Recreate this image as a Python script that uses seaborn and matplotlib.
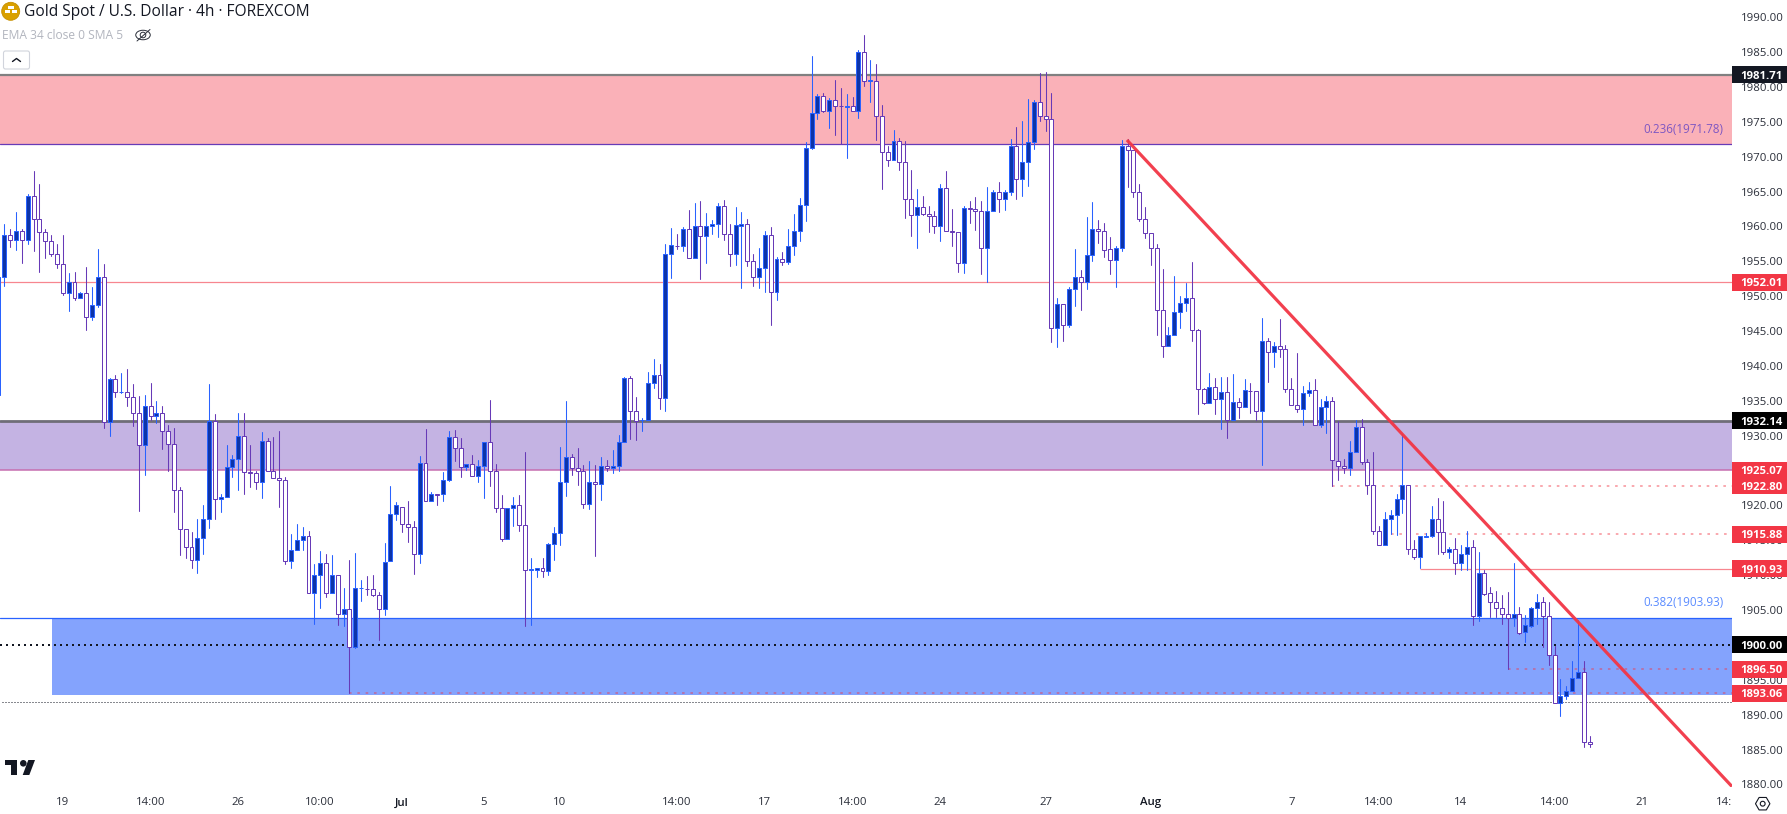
import numpy as np
import pandas as pd
import seaborn as sns
import matplotlib
matplotlib.use("Agg")
import matplotlib.pyplot as plt
from matplotlib.patches import Rectangle, Circle, Ellipse, Polygon, FancyBboxPatch

# 4h candles
opens = [
    1935.8,1952.8,1958.7,1958.0,1959.3,1958.1,1964.3,1961.0,1959.2,1957.9,
    1956.1,1954.6,1950.4,1952.0,1949.7,1950.4,1947.0,1948.8,1952.7,1931.9,
    1938.1,1936.2,1936.3,1935.5,1933.3,1928.6,1934.2,1932.8,1933.2,1930.6,
    1928.8,1922.2,1916.6,1914.0,1912.2,1915.3,1918.0,1932.15,1920.9,1921.2,
    1925.5,1926.7,1929.9,1924.8,1924.6,1923.3,1929.2,1925.0,1924.0,1923.6,
    1912.1,1913.65,1915.1,1915.6,1907.4,1910.0,1911.8,1907.4,1910.0,1904.5,
    1905.2,1899.65,1908.1,1908.05,1908.0,1907.2,1905.2,1912.0,1918.7,1919.8,
    1917.4,1916.95,1913.1,1926.1,1920.7,1921.6,1921.6,1923.7,1929.8,1928.3,
    1925.5,1926.0,1924.2,1925.6,1929.05,1925.0,1919.7,1915.2,1919.6,1920.1,
    1917.2,1910.8,1910.8,1911.0,1910.65,1914.4,1916.1,1923.3,1927.0,1925.3,
    1925.0,1920.25,1923.3,1923.0,1925.7,1925.3,1925.6,1929.05,1938.2,1933.5,
    1932.2,1932.2,1937.5,1938.65,1935.45,1956.1,1957.25,1957.15,1959.6,1955.4,
    1960.0,1958.6,1960.0,1960.4,1962.9,1958.9,1956.0,1960.1,1960.3,1955.1,
    1952.7,1954.0,1958.7,1950.55,1955.3,1954.95,1957.15,1959.3,1963.0,1971.3,
    1976.2,1978.65,1976.6,1978.1,1977.25,1977.1,1977.3,1976.5,1984.95,1980.9,
    1980.9,1975.9,1970.6,1969.5,1972.3,1969.3,1964.0,1961.6,1962.75,1961.75,
    1961.45,1960.0,1965.45,1959.4,1959.15,1954.7,1962.6,1962.55,1962.15,1956.85,
    1962.15,1964.9,1963.9,1965.0,1971.5,1966.75,1969.3,1972.05,1977.8,1975.8,
    1975.35,1945.4,1948.85,1945.8,1951.0,1952.7,1952.0,1955.85,1959.6,1959.3,
    1956.7,1955.15,1956.85,1971.5,1970.9,1965.0,1961.0,1959.0,1956.85,1948.0,
    1942.8,1944.4,1947.7,1949.0,1949.7,1945.1,1936.65,1934.75,1936.95,1935.2,
    1936.2,1932.3,1934.8,1934.1,1936.45,1936.35,1933.5,1943.55,1942.0,1942.8,
    1942.4,1936.65,1934.35,1933.8,1936.1,1936.5,1931.6,1934.1,1934.9,1926.4,
    1925.6,1925.3,1927.6,1931.2,1926.2,1922.9,1916.4,1914.3,1918.0,1918.6,
    1920.9,1922.9,1913.7,1912.55,1915.5,1915.65,1918.0,1916.15,1913.3,1913.7,
    1911.7,1913.0,1914.0,1904.2,1910.25,1907.4,1906.1,1905.25,1904.5,1903.8,
    1904.5,1901.8,1902.7,1905.25,1906.1,1904.2,1898.5,1891.7,1892.7,1893.4,1895.3,1896.1,1886.1,
]
highs = [
    1953.0,1960.3,1959.6,1962.1,1959.6,1964.7,1967.9,1966.1,1959.7,1958.8,
    1957.5,1958.8,1953.3,1953.5,1950.6,1954.2,1951.3,1956.8,1954.6,1938.3,
    1938.7,1939.0,1939.6,1937.4,1935.7,1935.8,1937.6,1935.0,1934.3,1931.5,
    1931.05,1922.7,1916.6,1916.2,1918.0,1920.0,1937.4,1933.1,1921.7,1928.7,
    1927.2,1933.3,1933.3,1928.7,1925.0,1930.5,1929.6,1929.8,1930.7,1924.1,
    1915.9,1917.3,1916.9,1916.3,1911.6,1913.4,1913.1,1912.9,1910.0,1908.2,
    1912.2,1913.2,1909.3,1909.9,1910.0,1907.6,1914.6,1922.8,1920.5,1919.8,
    1920.6,1917.8,1927.1,1931.0,1921.9,1921.6,1924.8,1930.7,1930.8,1929.7,
    1926.0,1927.2,1926.5,1929.05,1935.1,1925.9,1921.5,1919.7,1921.2,1921.5,
    1927.7,1912.5,1911.0,1912.4,1914.6,1916.9,1928.4,1935.0,1927.4,1928.2,
    1925.8,1926.4,1925.8,1926.9,1926.5,1927.95,1930.1,1938.4,1938.6,1935.55,
    1932.6,1939.1,1941.0,1940.3,1957.5,1959.8,1958.9,1959.9,1962.35,1963.35,
    1963.6,1961.9,1960.9,1963.3,1963.8,1960.35,1962.8,1962.1,1961.1,1956.05,
    1956.9,1959.3,1959.9,1955.6,1956.4,1959.6,1961.8,1964.1,1972.1,1984.4,
    1979.0,1979.1,1978.4,1981.0,1979.8,1979.0,1978.55,1985.3,1987.4,1983.9,
    1983.3,1977.4,1971.5,1973.8,1972.7,1972.25,1968.1,1965.4,1964.4,1962.9,
    1962.2,1966.1,1968.0,1962.5,1959.15,1962.9,1963.65,1964.2,1963.65,1965.65,
    1965.2,1966.4,1965.2,1972.5,1974.25,1975.1,1978.3,1978.1,1981.95,1982.15,
    1979.1,1949.75,1948.85,1951.3,1956.7,1953.75,1961.3,1963.5,1960.9,1960.45,
    1958.45,1957.2,1972.4,1972.5,1971.0,1966.1,1962.8,1959.1,1957.5,1953.85,
    1945.6,1952.9,1950.0,1951.9,1954.9,1945.3,1936.9,1939.0,1938.3,1938.4,
    1938.4,1938.85,1935.4,1938.1,1937.55,1936.35,1946.9,1944.0,1943.4,1946.7,
    1943.0,1938.3,1941.8,1937.1,1937.7,1938.1,1935.2,1935.7,1935.5,1932.1,
    1926.6,1929.2,1932.25,1932.35,1926.6,1927.65,1917.0,1919.0,1919.35,1921.6,
    1930.2,1922.9,1915.1,1915.6,1916.0,1919.9,1921.05,1920.7,1914.1,1915.3,
    1914.3,1916.3,1915.0,1913.3,1910.75,1908.3,1907.7,1907.1,1907.6,1911.7,
    1905.5,1904.25,1905.4,1907.3,1906.9,1906.1,1899.9,1895.1,1894.1,1897.7,1903.6,1897.7,1886.9,
]
lows = [
    1935.0,1951.5,1957.0,1956.6,1954.8,1957.5,1956.5,1953.4,1955.5,1955.8,
    1954.1,1950.2,1947.9,1949.5,1949.7,1945.1,1946.6,1948.4,1931.1,1929.9,
    1935.6,1936.1,1934.3,1931.4,1919.2,1924.4,1932.2,1931.8,1928.1,1925.0,
    1919.1,1912.9,1912.5,1911.0,1910.3,1913.0,1916.8,1918.05,1919.05,1921.2,
    1924.1,1922.2,1921.6,1922.6,1922.4,1921.1,1925.0,1924.0,1919.8,1911.6,
    1911.0,1913.65,1913.6,1907.4,1903.0,1905.3,1906.9,1907.4,1902.85,1902.7,
    1893.06,1899.5,1906.3,1907.2,1907.0,1900.75,1904.3,1912.0,1917.9,1916.2,
    1914.75,1910.2,1911.7,1920.7,1920.7,1920.05,1920.7,1923.5,1926.3,1924.1,
    1925.1,1924.2,1923.3,1921.0,1922.8,1919.1,1914.95,1915.2,1917.05,1916.3,
    1902.75,1902.9,1909.8,1909.8,1910.0,1912.2,1914.3,1921.4,1924.4,1922.9,
    1919.7,1919.5,1912.75,1920.8,1925.0,1924.6,1924.9,1929.05,1929.5,1929.4,
    1930.7,1932.2,1936.8,1933.8,1933.5,1952.65,1956.8,1956.5,1955.4,1955.4,
    1952.5,1954.8,1958.9,1958.5,1958.0,1954.3,1954.5,1951.1,1954.3,1951.45,
    1951.2,1950.6,1945.9,1949.45,1954.5,1954.6,1955.9,1957.9,1960.8,1971.1,
    1975.4,1976.4,1974.1,1973.1,1971.8,1969.8,1976.5,1975.5,1980.1,1977.8,
    1972.4,1965.35,1968.6,1969.5,1968.1,1961.25,1958.6,1956.9,1961.6,1959.2,
    1959.05,1957.9,1959.3,1957.2,1953.45,1953.3,1960.5,1959.5,1953.2,1952.1,
    1962.15,1962.1,1962.35,1964.5,1963.9,1964.35,1965.8,1971.1,1975.1,1973.7,
    1943.45,1942.7,1943.6,1945.6,1948.6,1948.0,1951.0,1955.05,1957.6,1955.6,
    1953.2,1951.3,1956.5,1965.65,1964.2,1960.8,1958.3,1954.45,1944.4,1941.3,
    1942.8,1944.4,1945.45,1947.9,1943.6,1933.1,1934.55,1934.75,1933.1,1931.0,
    1929.7,1932.3,1932.6,1934.1,1933.2,1932.2,1925.8,1937.7,1939.85,1941.3,
    1936.25,1934.35,1933.45,1931.6,1935.7,1931.6,1931.3,1930.4,1922.8,1923.65,
    1924.6,1924.35,1927.6,1926.0,1921.65,1915.85,1914.3,1914.3,1915.85,1915.7,
    1918.9,1913.05,1912.3,1911.0,1915.5,1915.5,1913.05,1913.05,1912.4,1910.15,
    1910.75,1910.75,1902.85,1903.4,1907.1,1903.95,1904.0,1903.0,1896.6,1902.7,
    1901.5,1900.4,1902.6,1903.0,1899.7,1897.1,1891.7,1889.8,1892.3,1893.4,1895.3,1885.3,1885.3,
]
closes = [
    1952.8,1958.7,1958.0,1959.3,1958.1,1964.3,1961.0,1959.2,1957.9,1956.1,
    1954.6,1950.4,1952.0,1949.7,1950.4,1947.0,1948.8,1952.7,1931.9,1938.1,
    1936.3,1936.3,1935.5,1933.3,1928.6,1934.2,1932.8,1933.2,1930.6,1928.8,
    1922.2,1916.6,1914.0,1912.2,1915.3,1918.0,1932.15,1920.9,1921.2,1925.5,
    1926.7,1929.9,1924.8,1924.6,1923.3,1929.2,1925.0,1924.0,1923.6,1912.1,
    1913.65,1915.1,1915.6,1907.4,1910.0,1911.8,1907.4,1910.0,1904.5,1905.2,
    1899.65,1908.1,1908.15,1908.0,1907.2,1905.2,1911.9,1918.7,1920.0,1917.4,
    1916.95,1913.1,1926.1,1920.7,1921.6,1921.55,1923.7,1929.8,1928.3,1925.5,
    1926.0,1924.2,1925.6,1929.05,1925.0,1919.7,1915.2,1919.6,1920.1,1917.2,
    1910.8,1910.85,1911.0,1910.65,1914.4,1916.1,1923.3,1927.0,1925.3,1925.0,
    1920.25,1923.3,1923.0,1925.7,1925.3,1925.6,1929.05,1938.2,1933.5,1932.1,
    1932.25,1937.5,1938.65,1935.45,1956.1,1957.3,1957.2,1959.6,1955.4,1960.0,
    1958.6,1960.0,1960.4,1962.9,1958.9,1956.0,1960.15,1960.3,1955.1,1952.7,
    1954.0,1958.7,1950.55,1955.3,1954.95,1957.15,1959.3,1963.0,1971.3,1976.2,
    1978.65,1976.6,1978.1,1977.2,1977.2,1977.3,1976.5,1984.95,1980.8,1980.95,
    1975.9,1970.6,1969.5,1972.3,1969.3,1964.0,1961.6,1962.75,1961.75,1961.45,
    1960.0,1965.45,1959.4,1959.15,1954.7,1962.6,1962.55,1962.15,1956.85,1962.15,
    1964.9,1963.9,1965.0,1971.5,1966.75,1969.3,1972.05,1977.8,1975.8,1975.35,
    1945.4,1948.85,1945.8,1951.0,1952.7,1952.0,1955.85,1959.6,1959.3,1956.6,
    1955.15,1956.85,1971.5,1970.9,1965.0,1961.0,1959.0,1956.85,1948.0,1942.8,
    1944.4,1947.7,1949.0,1949.7,1945.1,1936.65,1934.75,1936.95,1935.2,1936.2,
    1932.3,1934.8,1934.1,1936.5,1936.4,1933.5,1943.55,1942.0,1942.8,1942.4,
    1936.65,1934.35,1933.8,1936.1,1936.5,1931.6,1934.1,1934.9,1926.5,1925.6,
    1925.3,1927.6,1931.2,1926.2,1922.9,1916.4,1914.3,1918.0,1918.6,1920.9,
    1922.9,1913.7,1912.55,1915.6,1915.65,1918.0,1916.15,1913.3,1913.7,1911.7,
    1913.0,1914.0,1904.2,1910.25,1907.3,1906.1,1905.25,1904.5,1903.8,1904.5,
    1901.75,1902.8,1905.25,1906.1,1904.2,1898.5,1891.7,1892.7,1893.4,1895.3,1896.1,1886.1,1885.75,
]

# time axis labels and the candle they sit under
time_labels = ["19","14:00","26","10:00","Jul","5","10","14:00","17","14:00","24","27",
               "Aug","7","14:00","14","14:00","21","14:"]
time_candles = [11,26,41,55,69,83,96,116,131,146,161,179,197,221,236,250,266,281,295]
price_ticks = list(range(1880, 1995, 5))

# levels: price, candle the line starts at
black_tags = [1981.71, 1932.14, 1900.00]
red_tags = [1952.01, 1925.07, 1922.80, 1915.88, 1910.93, 1896.50, 1893.06]
dotted_levels = [1922.80, 1915.88, 1896.50, 1893.06]
dotted_starts = [228, 238, 258, 60]
solid_levels = [1952.01, 1910.93]
solid_starts = [0, 243]
trend_x = [192.9, 296.33]
trend_y = [1972.39, 1879.7]

UP_FILL, UP_EDGE = "#0d34a8", "#2962ff"
DOWN_FILL, DOWN_EDGE = "#ffffff", "#673ab7"
RED = "#f23645"
INK = "#131722"

W, H = 1787, 814
sns.set_theme(style="white")
plt.rcParams["font.family"] = ["Open Sans", "DejaVu Sans"]

df = pd.DataFrame({"open": opens, "high": highs, "low": lows, "close": closes})
df["candle"] = np.arange(len(df))
df["up"] = df["close"] > df["open"]
df["top"] = df[["open", "close"]].max(axis=1)
df["bot"] = df[["open", "close"]].min(axis=1)

fig = plt.figure(figsize=(W / 100, H / 100), dpi=100, facecolor="white")
ax = fig.add_axes([0, (H - 787) / H, 1732 / W, 787 / H])
ax.set_xlim(0.265, 296.33)
ax.set_ylim(1879.63, 1992.46)
for s in ax.spines.values():
    s.set_visible(False)

# zones
ax.axhspan(1971.78, 1981.71, color="#fab1b8", lw=0, zorder=1)
ax.axhspan(1925.07, 1932.14, color="#c4b3e3", lw=0, zorder=1)
ax.fill_between([9.15, 296.33], 1892.86, 1903.93, color="#84a3fd", lw=0, zorder=1)
ax.axhline(1981.71, color="#808080", lw=1.6, zorder=1.5)
ax.axhline(1971.78, color="#673ab7", lw=0.9, zorder=1.5)
ax.axhline(1932.14, color="#6f6d78", lw=2.0, zorder=1.5)
ax.axhline(1925.07, color="#c66fb0", lw=1.1, zorder=1.5)
ax.axhline(1903.93, color="#2962ff", lw=0.9, zorder=1.5)

# levels
ax.hlines(solid_levels, solid_starts, 296.33, color=RED, alpha=0.6, lw=0.9, zorder=1.6)
ax.hlines(dotted_levels, dotted_starts, 296.33, color=RED, alpha=0.55, lw=1.1,
          linestyles=[(0, (1.7, 3.75))], zorder=1.6)
ax.axhline(1900.0, color=INK, lw=1.44, ls=(0, (1, 2)), zorder=1.7)
ax.hlines(1891.77, 0.6, 296.33, color=INK, lw=0.72, linestyles=[(0, (1, 2))], zorder=1.7)

# candles
wicks = pd.concat([df[["candle", "up", "high"]].rename(columns={"high": "price"}),
                   df[["candle", "up", "low"]].rename(columns={"low": "price"})])
sns.lineplot(data=wicks, x="candle", y="price", hue="up", units="candle", estimator=None,
             palette={True: UP_EDGE, False: DOWN_EDGE}, legend=False, lw=0.75, ax=ax, zorder=2)
for up, fill, edge in [(True, UP_FILL, UP_EDGE), (False, DOWN_FILL, DOWN_EDGE)]:
    part = df[df["up"] == up]
    ax.bar(part["candle"], part["top"] - part["bot"], bottom=part["bot"], width=0.68,
           color=fill, edgecolor=edge, linewidth=0.72, zorder=3)

# trend line
sns.lineplot(x=trend_x, y=trend_y, color=RED, lw=2.3, alpha=0.95, ax=ax, zorder=4,
             solid_capstyle="butt")

ax.set_xlabel("")
ax.set_ylabel("")
ax.yaxis.tick_right()
ax.set_yticks(price_ticks, [f"{p:.2f}" for p in price_ticks])
ax.set_xticks(time_candles, time_labels)
ax.tick_params(axis="y", length=0, pad=6.5, labelsize=8.2, labelcolor="#2a2e39")
ax.tick_params(axis="x", length=0, pad=7.5, labelsize=8.2, labelcolor="#2a2e39")
for lab in ax.get_xticklabels():
    if lab.get_text() in ("Jul", "Aug"):
        lab.set_color(INK)
        lab.set_fontweight("semibold")

# fib texts
ax.text(1723.5 / 1732, 1973.0, "0.236(1971.78)", transform=ax.get_yaxis_transform(),
        ha="right", va="bottom", color="#7e57c2", fontsize=8.4, zorder=5)
ax.text(1723.5 / 1732, 1905.15, "0.382(1903.93)", transform=ax.get_yaxis_transform(),
        ha="right", va="bottom", color="#5b8cff", fontsize=8.4, zorder=5)

# price tags on the right axis
tag_w = (W - 1732) / 1732
tag_h = 17 / 6.975
for price, col in [(p, INK) for p in black_tags] + [(p, RED) for p in red_tags]:
    face = "#000000" if price in (1932.14, 1900.00) else col
    ax.add_patch(Rectangle((1.0, price - tag_h / 2), tag_w, tag_h, transform=ax.get_yaxis_transform(),
                           facecolor=face, edgecolor="none", clip_on=False, zorder=6))
    ax.text(1 + 29 / 1732, price, f"{price:.2f}", transform=ax.get_yaxis_transform(), ha="center",
            va="center_baseline", color="white", fontsize=8.2, fontweight="bold", zorder=7)

# chart furniture in pixel coordinates
ui = fig.add_axes([0, 0, 1, 1], zorder=10)
ui.set_xlim(0, W)
ui.set_ylim(H, 0)
ui.axis("off")
ui.patch.set_visible(False)

ui.text(24, 12, "Gold Spot / U.S. Dollar · 4h · FOREXCOM", color=INK, fontsize=11.2, va="center")
ui.add_patch(Circle((10.7, 11.3), 9, facecolor="#d9a000", edgecolor="#c78f00", lw=0.6))
for x0, y0, w in [(8, 5.5, 5.5), (4.5, 10, 5), (11.8, 10, 5.5)]:
    ui.add_patch(Rectangle((x0, y0), w, 3, facecolor="white", edgecolor="none"))

ui.text(2, 35.5, "EMA 34 close 0 SMA 5", color="#b2b5be", fontsize=8.65, va="center")
ui.add_patch(Ellipse((143, 35), 14.5, 9.5, facecolor="none", edgecolor="#2a2e39", lw=0.7))
ui.add_patch(Circle((143, 35), 2.8, facecolor="none", edgecolor="#2a2e39", lw=0.7))
ui.plot([137, 150], [41, 29.5], color="#2a2e39", lw=0.7)

ui.add_patch(FancyBboxPatch((3.5, 51), 26, 18, boxstyle="round,pad=0,rounding_size=2",
                            facecolor="white", edgecolor="#d1d4dc", lw=0.8))
ui.plot([12.5, 16.5, 20.5], [61.5, 58.5, 61.5], color=INK, lw=1.0)

# TradingView mark
ui.add_patch(Polygon([(5, 760), (17.3, 760), (17.3, 775), (10.7, 775), (10.7, 765), (5, 765)],
                     facecolor=INK, edgecolor="none"))
ui.add_patch(Circle((23.3, 763.3), 3.3, facecolor=INK, edgecolor="none"))
ui.add_patch(Polygon([(28.3, 760), (35, 760), (29.3, 775), (22.7, 775)], facecolor=INK, edgecolor="none"))

# settings hexagon
ang = np.deg2rad(np.arange(0, 360, 60))
ui.add_patch(Polygon(np.c_[1762.7 + 7.2 * np.cos(ang), 803.7 + 7.2 * np.sin(ang)],
                     facecolor="none", edgecolor=INK, lw=0.8))
ui.add_patch(Circle((1762.7, 803.7), 2.4, facecolor="none", edgecolor=INK, lw=0.8))

fig.savefig("out.png", dpi=100, facecolor="white")
